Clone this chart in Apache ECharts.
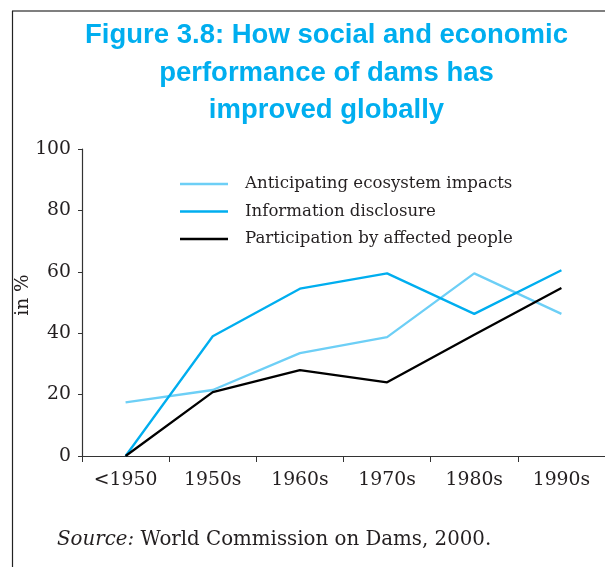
<!DOCTYPE html>
<html>
<head>
<meta charset="utf-8">
<script src="https://cdn.jsdelivr.net/npm/echarts@6/dist/echarts.min.js"></script>
<style>
html,body{margin:0;padding:0;background:#fff;}
#c{width:605px;height:567px;}
</style>
</head>
<body>
<div id="c"></div>
<script>
const categories = ['<1950', '1950s', '1960s', '1970s', '1980s', '1990s'];
const seriesNames = ['Anticipating ecosystem impacts', 'Information disclosure', 'Participation by affected people'];
const anticipating = [17.5, 21.5, 33.5, 38.7, 59.5, 46.3];
const disclosure = [0, 39, 54.5, 59.5, 46.3, 60.5];
const participation = [0, 20.8, 28, 24, 39.5, 54.7];
const yTicks = [0, 20, 40, 60, 80, 100];
const titleText = 'Figure 3.8: How social and economic\nperformance of dams has\nimproved globally';
const yName = 'in %';
const sourceText = 'World Commission on Dams, 2000.';

const colors = ['#6dcff6', '#00aeef', '#000000'];
const serif = 'DejaVu Serif';
const chart = echarts.init(document.getElementById('c'), null, {renderer: 'canvas'});

const mk = (name, data, color) => ({
  name, type: 'line', data, symbol: 'none', smooth: false,
  lineStyle: {color, width: 2.3}, itemStyle: {color}
});

chart.setOption({
  animation: false,
  backgroundColor: '#fff',
  grid: {left: 82, right: -2, top: 149, bottom: 111, containLabel: false},
  legend: {
    orient: 'vertical', left: 175, top: 170, padding: 5,
    icon: 'rect', itemWidth: 48, itemHeight: 2.5, itemGap: 9.5,
    data: seriesNames,
    textStyle: {fontFamily: serif, fontSize: 16.6, color: '#231f20', lineHeight: 18, padding: [0, 0, 0, 12]}
  },
  xAxis: {
    type: 'category', data: categories, boundaryGap: true,
    axisLine: {show: true, lineStyle: {color: '#333', width: 1.2}},
    axisTick: {show: true, length: 6, lineStyle: {color: '#333'}},
    axisLabel: {fontFamily: serif, fontSize: 18.8, color: '#231f20', margin: 15},
    splitLine: {show: false}
  },
  yAxis: {
    type: 'value', min: yTicks[0], max: yTicks[yTicks.length - 1], interval: yTicks[1] - yTicks[0],
    axisLine: {show: true, lineStyle: {color: '#333', width: 1.2}},
    axisTick: {show: true, length: 4, lineStyle: {color: '#333'}},
    axisLabel: {fontFamily: serif, fontSize: 18.8, color: '#231f20', margin: 11},
    splitLine: {show: false}
  },
  series: [
    mk(seriesNames[0], anticipating, colors[0]),
    mk(seriesNames[1], disclosure, colors[1]),
    mk(seriesNames[2], participation, colors[2])
  ],
  graphic: [
    {type: 'line', shape: {x1: 12, y1: 11, x2: 605, y2: 11}, style: {stroke: '#555', lineWidth: 1.5}, silent: true},
    {type: 'line', shape: {x1: 12.5, y1: 11, x2: 12.5, y2: 567}, style: {stroke: '#222', lineWidth: 1.2}, silent: true},
    {type: 'text', x: 326.5, y: 17, style: {
      text: titleText, textAlign: 'center', textVerticalAlign: 'top',
      fontFamily: 'Liberation Sans', fontWeight: 'bold', fontSize: 27.5, lineHeight: 37.5, fill: '#00aeef'
    }},
    {type: 'text', x: 23, y: 295, rotation: Math.PI / 2, style: {
      text: yName, textAlign: 'center', textVerticalAlign: 'middle',
      fontFamily: serif, fontSize: 18.5, fill: '#231f20'
    }},
    {type: 'text', x: 57, y: 540, style: {
      text: '{i|Source:} ' + sourceText, textVerticalAlign: 'middle',
      fontFamily: serif, fontSize: 19.8, fill: '#231f20',
      rich: {i: {fontStyle: 'italic', fontFamily: serif, fontSize: 19.8, fill: '#231f20'}}
    }}
  ]
});
</script>
</body>
</html>
